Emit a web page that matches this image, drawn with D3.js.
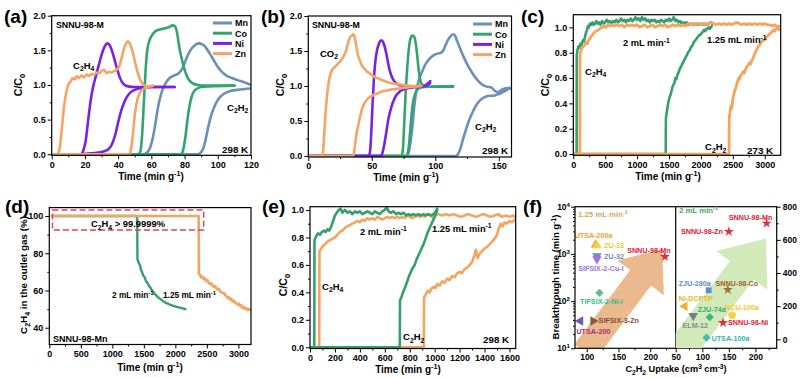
<!DOCTYPE html>
<html><head><meta charset="utf-8">
<script src="https://cdn.jsdelivr.net/npm/d3@7"></script>
<style>
body{margin:0;background:#fff;}
svg{display:block;font-family:"Liberation Sans",Arial,sans-serif;}
</style></head><body>
<svg id="c" width="800" height="378"></svg>
<script>
// ---------------- DATA ----------------
const metals = ["Mn","Co","Ni","Zn"];
// panel (a): C2H4/C2H2 breakthrough, [time, C/C0]
const aMnC2H4 = [[0,0],[55,0],[57,0.02],[59,0.08],[61,0.25],[62.5,0.45],[64,0.68],[66,0.88],[68,1.0],[71,1.1],[74,1.14],[76.5,1.17],[79,1.25],[81,1.38],[83.5,1.5],[86,1.57],[88.5,1.6],[90.5,1.59],[92.5,1.55],[95,1.46],[97.5,1.36],[100,1.26],[102.5,1.19],[105.5,1.13],[108.5,1.1],[112,1.07],[116,1.04],[120,1.0]];
const aMnC2H2 = [[0,0],[88,0],[90,0.03],[91.5,0.1],[93,0.25],[94.5,0.42],[96,0.56],[98,0.69],[100.5,0.8],[103.5,0.87],[107,0.91],[112,0.93],[120,0.95]];
const aCoC2H4 = [[0,0],[52,0],[53.5,0.05],[54.5,0.3],[55.5,0.75],[56.5,1.2],[57.5,1.5],[59,1.65],[61,1.74],[63.5,1.79],[67,1.81],[70,1.83],[73,1.86],[74.5,1.84],[75.5,1.75],[77,1.52],[78.5,1.36],[80,1.22],[82,1.1],[84.5,1.03],[88,1.0],[93,0.99],[110,0.99]];
const aCoC2H2 = [[0,0],[78,0],[79,0.05],[80.5,0.25],[82,0.55],[83.5,0.76],[85,0.88],[87,0.94],[90,0.97],[95,0.98],[110,0.99]];
const aNiC2H4 = [[0,0],[17.5,0],[19,0.05],[20.5,0.2],[22,0.5],[23.5,0.78],[25,0.98],[26.5,1.12],[28.5,1.3],[30.5,1.47],[32,1.56],[33.5,1.6],[35,1.57],[36.5,1.48],[38,1.35],[39.5,1.22],[41,1.11],[43,1.02],[46,0.98],[50,0.97],[74,0.97]];
const aNiC2H2 = [[0,0],[18,0],[22,0.01],[27,0.02],[31,0.04],[34,0.07],[36,0.13],[38,0.26],[40,0.46],[42,0.64],[44,0.77],[46.5,0.87],[50,0.93],[55,0.96],[60,0.97],[74,0.97]];
const aZnC2H4 = [[0,0],[3,0],[4.5,0.05],[6,0.35],[7.5,0.7],[9,0.92],[10.5,1.03],[11.5,1.05],[12.5,1.1],[14,1.08],[15,1.13],[16.5,1.1],[18,1.14],[19.5,1.11],[21,1.15],[22.5,1.13],[24,1.16],[25.5,1.15],[27,1.18],[28.5,1.17],[30,1.2],[31.5,1.22],[33,1.17],[34.5,1.19],[36,1.18],[37.5,1.2],[39,1.22],[40.5,1.26],[42,1.38],[43.5,1.52],[45,1.61],[46,1.63],[47,1.6],[48.5,1.5],[50,1.35],[51.5,1.2],[53,1.09],[55,1.01],[57.5,0.98],[61,0.99]];
const aZnC2H2 = [[0,0],[46.5,0],[47.5,0.04],[48.5,0.2],[49.5,0.45],[50.5,0.65],[51.5,0.78],[53,0.88],[55,0.94],[57.5,0.97],[61,0.99]];
// panel (b): CO2/C2H2
const bMnCO2 = [[0,0],[77,0],[79,0.05],[80.5,0.2],[82,0.42],[83.5,0.72],[85,0.92],[87,1.08],[89.5,1.2],[92,1.3],[95,1.38],[98,1.43],[101,1.46],[104,1.47],[106,1.5],[108,1.58],[110,1.66],[112,1.71],[114,1.74],[115.5,1.72],[117,1.65],[119,1.56],[121,1.47],[123.5,1.37],[126,1.28],[129,1.19],[132,1.11],[135,1.05],[138,1.01],[141,0.99],[144,0.98],[147,0.93],[149,0.91],[151,0.93],[154,0.96],[157,0.97],[160,0.97]];
const bMnC2H2 = [[0,0],[116,0],[118,0.03],[120,0.12],[122,0.25],[124,0.37],[126,0.48],[128,0.57],[130,0.65],[132,0.72],[134.5,0.78],[137,0.82],[140,0.85],[143,0.86],[146,0.86],[149,0.88],[152,0.9],[155,0.93],[158,0.96],[160,0.97]];
const bCoCO2 = [[0,0],[73.5,0],[74.5,0.1],[75.5,0.45],[76.5,0.85],[77.5,1.15],[78.5,1.4],[79.5,1.58],[80.5,1.68],[82,1.72],[83.5,1.7],[84.5,1.62],[85.5,1.48],[86.5,1.3],[87.5,1.15],[88.5,1.06],[90,1.01],[93,0.99],[100,0.99],[114,0.99]];
const bCoC2H2 = [[0,0],[77.5,0],[78.5,0.05],[79.5,0.2],[80.5,0.42],[81.5,0.62],[82.5,0.77],[84,0.88],[86,0.95],[89,0.98],[95,0.99],[114,1.0]];
const bNiCO2 = [[0,0],[47.5,0],[48.5,0.05],[49.5,0.3],[50.5,0.7],[51.5,1.05],[52.5,1.3],[54,1.5],[55.5,1.6],[57,1.65],[58,1.65],[59.5,1.6],[61,1.5],[62.5,1.36],[64,1.23],[66,1.12],[68,1.06],[71,1.02],[75,1.0],[80,0.99],[86,1.0],[91,1.0],[93,1.02],[95,1.05],[96,1.07]];
const bNiC2H2 = [[0,0],[57.5,0],[58.5,0.05],[60,0.18],[61.5,0.35],[63,0.52],[64.5,0.64],[66.5,0.76],[69,0.86],[72,0.92],[76,0.96],[82,0.98],[88,0.99],[92,1.0],[94,1.02],[96,1.04]];
const bZnCO2 = [[0,0],[10.5,0],[11.5,0.05],[12.5,0.3],[13.5,0.6],[15,0.9],[16.5,1.1],[18,1.2],[19.5,1.25],[21,1.27],[22.5,1.3],[24,1.33],[25.5,1.36],[27,1.4],[28.5,1.45],[30,1.52],[31.5,1.63],[33,1.7],[34.5,1.72],[35.5,1.74],[36.5,1.7],[37.5,1.6],[39,1.45],[40.5,1.37],[42,1.3],[44,1.25],[46,1.21],[49,1.17],[52,1.13],[56,1.1],[60,1.07],[65,1.04],[70,1.03],[76,1.01],[82,1.0],[89,1.0]];
const bZnC2H2 = [[0,0],[35,0],[36,0.05],[37,0.18],[38,0.32],[39.5,0.45],[41,0.58],[42.5,0.68],[44.5,0.76],[47,0.82],[50,0.86],[54,0.89],[58,0.92],[63,0.94],[70,0.96],[78,0.98],[89,1.0]];
// panel (c): 273 K, two flow rates
const cGreenC2H4 = [[0,0],[52,0],[54,0.78],[65,0.82],[80,0.85],[95,0.84],[110,0.87],[125,0.86],[140,0.88],[155,0.9],[170,0.89],[185,0.93],[200,0.96],[215,0.98],[230,1.01],[245,1.0],[260,1.03],[280,1.02],[300,1.04],[320,1.02],[340,1.03],[360,1.05],[380,1.03],[400,1.04],[425,1.02],[450,1.05],[475,1.03],[500,1.04],[525,1.06],[550,1.04],[575,1.05],[600,1.03],[625,1.05],[650,1.04],[675,1.06],[700,1.04],[725,1.05],[750,1.07],[775,1.05],[800,1.06],[825,1.04],[850,1.06],[875,1.05],[900,1.07],[925,1.05],[950,1.06],[975,1.08],[1000,1.06],[1025,1.07],[1050,1.05],[1075,1.08],[1100,1.06],[1125,1.07],[1150,1.05],[1175,1.06],[1200,1.04],[1225,1.06],[1250,1.05],[1275,1.06],[1300,1.04],[1325,1.05],[1350,1.04],[1375,1.06],[1400,1.05],[1425,1.04],[1450,1.06],[1475,1.05],[1500,1.07],[1525,1.05],[1550,1.06],[1575,1.08],[1600,1.05],[1625,1.06],[1650,1.04],[1675,1.05],[1700,1.03],[1725,1.04],[1750,1.03],[1775,1.04],[1800,1.02],[1825,1.03],[1850,1.02],[1875,1.03],[1900,1.02],[1925,1.03],[1950,1.02],[1975,1.03],[2000,1.02],[2025,1.03],[2050,1.02],[2075,1.03],[2100,1.02],[2125,1.03],[2150,1.04],[2175,1.03]];
const cGreenC2H2 = [[0,0],[1448,0],[1451,0.28],[1465,0.33],[1480,0.38],[1495,0.42],[1510,0.45],[1525,0.47],[1540,0.5],[1555,0.53],[1570,0.55],[1585,0.56],[1600,0.6],[1615,0.59],[1630,0.62],[1645,0.64],[1660,0.66],[1675,0.68],[1690,0.69],[1705,0.71],[1720,0.72],[1735,0.74],[1750,0.75],[1765,0.77],[1780,0.78],[1795,0.8],[1810,0.81],[1825,0.82],[1840,0.84],[1855,0.85],[1870,0.86],[1885,0.88],[1900,0.89],[1915,0.9],[1930,0.91],[1945,0.92],[1960,0.93],[1975,0.94],[1990,0.94],[2005,0.95],[2020,0.96],[2035,0.97],[2050,0.98],[2065,0.97],[2080,0.98],[2095,0.99],[2110,0.99],[2125,1.0],[2140,0.99],[2155,1.0],[2170,1.01]];
const cOrangeC2H4 = [[0,0],[102,0],[105,0.78],[120,0.82],[140,0.84],[160,0.85],[180,0.86],[200,0.88],[220,0.87],[240,0.9],[260,0.91],[280,0.93],[300,0.94],[330,0.96],[360,0.97],[390,0.98],[420,0.99],[450,1.0],[480,1.01],[510,1.0],[540,1.02],[570,1.01],[600,1.02],[640,1.01],[680,1.02],[720,1.01],[760,1.02],[800,1.0],[840,1.02],[880,1.01],[920,1.02],[960,1.01],[1000,1.02],[1040,1.0],[1080,1.01],[1120,1.02],[1160,1.0],[1200,1.01],[1240,1.02],[1280,1.0],[1320,1.01],[1360,1.02],[1400,1.01],[1440,1.02],[1480,1.0],[1520,1.01],[1560,1.02],[1600,1.01],[1640,1.02],[1680,1.01],[1720,1.02],[1760,1.01],[1800,1.03],[1840,1.02],[1880,1.03],[1920,1.02],[1960,1.03],[2000,1.02],[2040,1.03],[2080,1.02],[2120,1.03],[2160,1.04],[2200,1.03],[2240,1.02],[2280,1.03],[2320,1.02],[2360,1.03],[2400,1.02],[2440,1.03],[2480,1.02],[2520,1.03],[2560,1.04],[2600,1.03],[2640,1.02],[2680,1.03],[2720,1.02],[2760,1.03],[2800,1.02],[2840,1.03],[2880,1.02],[2920,1.03],[2960,1.02],[3000,1.03],[3040,1.02],[3080,1.02],[3120,1.01],[3160,1.02],[3200,1.0],[3230,0.98]];
const cOrangeC2H2 = [[0,0],[2440,0],[2443,0.28],[2455,0.33],[2470,0.38],[2485,0.36],[2500,0.44],[2515,0.47],[2530,0.5],[2545,0.52],[2560,0.55],[2575,0.57],[2590,0.6],[2605,0.59],[2620,0.62],[2640,0.63],[2660,0.65],[2680,0.64],[2700,0.67],[2720,0.69],[2740,0.7],[2760,0.72],[2780,0.71],[2800,0.74],[2820,0.76],[2840,0.79],[2860,0.81],[2880,0.83],[2900,0.85],[2920,0.86],[2940,0.88],[2960,0.89],[2980,0.9],[3000,0.9],[3020,0.92],[3040,0.93],[3060,0.94],[3080,0.95],[3100,0.96],[3120,0.97],[3140,0.98],[3160,0.97],[3180,0.99],[3200,1.0],[3220,1.01]];
// panel (d): C2H4 purity in outlet gas (%)
const dGreen = [[40,100],[1395,100],[1398,77],[1410,75.5],[1425,74.5],[1440,73.5],[1455,71],[1470,70],[1485,68.5],[1500,67.5],[1515,67],[1530,65.5],[1545,64.5],[1560,64],[1575,63],[1590,62],[1605,61.5],[1620,60.5],[1635,60],[1650,59.2],[1665,58.5],[1680,58],[1700,57.2],[1720,56.5],[1740,56],[1760,55.5],[1780,55],[1800,54.4],[1820,54],[1840,53.5],[1860,53.2],[1880,53],[1900,52.6],[1920,52.3],[1940,52.1],[1960,51.8],[1980,51.6],[2000,51.5],[2020,51.2],[2040,51],[2060,50.9],[2080,50.7],[2100,50.5],[2120,50.4],[2140,50.2],[2160,50]];
const dOrange = [[40,100],[2370,100],[2373,69],[2390,68.5],[2410,67],[2430,67.5],[2450,66],[2470,66.5],[2490,65],[2510,65.5],[2530,64],[2550,63.5],[2570,64],[2590,62.5],[2610,62],[2630,62.5],[2650,61],[2670,60.5],[2690,61],[2710,59.5],[2730,59],[2750,58.5],[2770,58.8],[2790,57.5],[2810,57],[2830,56],[2850,56.5],[2870,55],[2890,55.5],[2910,54],[2930,54.5],[2950,53.5],[2970,53],[2990,52.5],[3010,53],[3030,51.5],[3050,52],[3070,50.5],[3090,51],[3110,50],[3130,50.5],[3150,49.5],[3170,50],[3190,49.5],[3210,50]];
const dPurityBox = [[50,92.5],[2450,103.2]];
// panel (e): 298 K, two flow rates
const eGreenC2H4 = [[0,0],[34,0],[36,0.78],[50,0.81],[65,0.83],[80,0.82],[95,0.84],[110,0.85],[125,0.84],[140,0.86],[155,0.85],[170,0.88],[185,0.92],[200,0.96],[215,0.98],[230,1.0],[245,1.01],[260,0.98],[280,1.0],[300,0.98],[320,0.99],[340,0.97],[360,0.99],[380,0.98],[400,0.99],[420,0.97],[440,0.98],[460,0.99],[480,0.98],[500,0.97],[520,0.99],[540,0.98],[560,0.97],[580,0.99],[600,1.0],[615,1.02],[630,0.99],[650,0.98],[670,0.99],[690,0.97],[710,0.98],[730,0.97],[750,0.98],[770,0.96],[790,0.97],[810,0.96],[830,0.97],[850,0.96],[870,0.97],[890,0.96],[910,0.97],[930,0.96],[950,0.97],[970,0.96],[990,0.97],[1010,0.99],[1020,1.01]];
const eGreenC2H2 = [[0,0],[720,0],[722,0.34],[735,0.37],[750,0.41],[765,0.44],[780,0.48],[795,0.52],[810,0.55],[825,0.58],[840,0.6],[855,0.64],[870,0.67],[885,0.7],[900,0.73],[915,0.76],[930,0.8],[945,0.84],[960,0.87],[975,0.9],[990,0.93],[1005,0.96],[1020,1.0]];
const eOrangeC2H4 = [[0,0],[74,0],[76,0.7],[90,0.72],[105,0.74],[120,0.75],[140,0.77],[160,0.78],[180,0.79],[200,0.8],[220,0.82],[240,0.84],[260,0.85],[280,0.87],[300,0.88],[320,0.89],[340,0.9],[360,0.91],[380,0.92],[400,0.91],[420,0.93],[440,0.92],[460,0.94],[480,0.93],[500,0.94],[520,0.93],[540,0.95],[560,0.94],[580,0.93],[600,0.94],[620,0.95],[640,0.94],[660,0.95],[680,0.94],[700,0.95],[720,0.94],[740,0.95],[760,0.94],[780,0.96],[800,0.95],[820,0.94],[840,0.95],[860,0.96],[880,0.95],[900,0.96],[920,0.95],[940,0.97],[960,0.96],[980,0.95],[1000,0.96],[1030,0.97],[1060,0.96],[1090,0.97],[1120,0.96],[1150,0.97],[1180,0.96],[1210,0.95],[1240,0.96],[1270,0.97],[1300,0.96],[1330,0.95],[1360,0.96],[1390,0.97],[1420,0.96],[1450,0.95],[1480,0.96],[1510,0.97],[1540,0.95],[1570,0.96],[1600,0.95],[1630,0.96],[1645,0.95]];
const eOrangeC2H2 = [[0,0],[913,0],[915,0.36],[930,0.39],[945,0.41],[960,0.4],[975,0.43],[990,0.44],[1005,0.43],[1020,0.46],[1040,0.45],[1060,0.48],[1080,0.47],[1100,0.5],[1120,0.49],[1140,0.52],[1160,0.51],[1180,0.54],[1200,0.55],[1220,0.54],[1240,0.57],[1260,0.58],[1280,0.6],[1300,0.62],[1315,0.66],[1330,0.71],[1345,0.65],[1360,0.68],[1380,0.7],[1400,0.72],[1420,0.73],[1440,0.75],[1460,0.77],[1480,0.79],[1500,0.82],[1515,0.87],[1530,0.9],[1545,0.88],[1560,0.91],[1580,0.9],[1600,0.92],[1620,0.91],[1645,0.93]];
// panel (f): C2H2 uptake (cm3 cm-3) vs breakthrough time (min g-1)
const fLeftNames  = ["UTSA-200a","ZU-33","ZU-32","SIFSIX-2-Cu-i","TIFSIX-2-Ni-i","UTSA-200","SIFSIX-3-Zn","SNNU-98-Mn"];
const fLeftUptake = [114,116,116,116,120,90,110,223];
const fLeftTime   = [1550,1500,900,780,150,38,38,870];
const fRightNames  = ["SNNU-98-Mn","SNNU-98-Zn","ZJU-280a","SNNU-98-Co","Ni-DCPTP","ELM-12","ZJU-74a","NCU-100a","SNNU-98-Ni","UTSA-100a"];
const fRightUptake = [221,150,112,148,67,83,114,156,139,108];
const fRightTime   = [700,650,296,300,200,142,134,146,100,10];

// ---------------- STYLE ----------------
const FONT = "'Liberation Sans', Arial, sans-serif";
const metalColor = {Mn:"#6b8fb9",Co:"#33a46e",Ni:"#7a22e3",Zn:"#f5a466"};
const GREEN = "#35a06c", ORANGE = "#f5a45f";
const fStyle = {
 "L:UTSA-200a":{c:"#f0a22a",s:"tu",lc:"#eea030",dx:-2,dy:-7,a:"middle"},
 "L:ZU-33":{c:"#f3d23e",s:"tu",lc:"#e8cc3a",dx:7,dy:2.5,a:"start"},
 "L:ZU-32":{c:"#6d8cc6",s:"td",lc:"#6a8ec0",dx:7,dy:2.5,a:"start"},
 "L:SIFSIX-2-Cu-i":{c:"#a574e0",s:"td",lc:"#a070dc",dx:4,dy:12,a:"middle"},
 "L:TIFSIX-2-Ni-i":{c:"#5cc08a",s:"di",lc:"#38b890",dx:2,dy:11.5,a:"middle"},
 "L:UTSA-200":{c:"#6a5ab0",s:"tl",lc:"#b03068",dx:13,dy:13.5,a:"middle"},
 "L:SIFSIX-3-Zn":{c:"#8b5a3c",s:"tr",lc:"#8b4a3a",dx:5.5,dy:2.5,a:"start"},
 "L:SNNU-98-Mn":{c:"#e0303a",s:"st",lc:"#e02030",dx:-16,dy:-4,a:"middle"},
 "R:SNNU-98-Mn":{c:"#d83040",s:"st",lc:"#e02030",dx:-16,dy:-3,a:"middle"},
 "R:SNNU-98-Zn":{c:"#e0303a",s:"st",lc:"#e02030",dx:-6,dy:2,a:"end"},
 "R:ZJU-280a":{c:"#5b8fd0",s:"sq",lc:"#5b8fc8",dx:-14,dy:-4.5,a:"middle"},
 "R:SNNU-98-Co":{c:"#a0703a",s:"st",lc:"#a0602a",dx:9,dy:-4,a:"middle"},
 "R:Ni-DCPTP":{c:"#f0b030",s:"tl",lc:"#e8b820",dx:11,dy:-5,a:"middle"},
 "R:ELM-12":{c:"#7c7c8a",s:"td",lc:"#8a8a8a",dx:2,dy:12,a:"middle"},
 "R:ZJU-74a":{c:"#3cb878",s:"di",lc:"#30b070",dx:2,dy:-5,a:"middle"},
 "R:NCU-100a":{c:"#f5d040",s:"pe",lc:"#f0c830",dx:10,dy:-5,a:"middle"},
 "R:SNNU-98-Ni":{c:"#e0303a",s:"st",lc:"#e02030",dx:5,dy:2.5,a:"start"},
 "R:UTSA-100a":{c:"#40c0b0",s:"di",lc:"#30b8a8",dx:5,dy:3,a:"start"}
};

// ---------------- HELPERS ----------------
const svg = d3.select("#c");
const defs = svg.append("defs");
function rich(t, str, fs){
  const re=/([_^])\{([^}]*)\}/g; let last=0, m, shift=0;
  const add=(txt,dy,size)=>{const s=t.append("tspan").text(txt); if(dy) s.attr("dy",dy); if(size) s.attr("font-size",size);};
  while((m=re.exec(str))!==null){
    if(m.index>last){ add(str.slice(last,m.index),-shift); shift=0; }
    const s = m[1]==="_" ? fs*0.3 : -fs*0.36;
    add(m[2], s-shift, fs*0.72); shift=s; last=re.lastIndex;
  }
  if(last<str.length) add(str.slice(last),-shift);
  return t;
}
function label(g,x,y,str,fs,o={}){
  const t=g.append("text").attr("x",x).attr("y",y).attr("font-size",fs).attr("font-weight","bold")
    .attr("font-family",FONT).attr("fill",o.fill||"#000").attr("text-anchor",o.anchor||"start");
  if(o.rotate) t.attr("transform",`rotate(-90,${x},${y})`);
  return rich(t,str,fs);
}
let clipN=0;
function panel(o){
  const x=d3.scaleLinear().domain(o.xd).range([o.l,o.r]);
  const y=(o.log?d3.scaleLog():d3.scaleLinear()).domain(o.yd).range([o.b,o.t]);
  const g=svg.append("g");
  const id="clip"+(clipN++);
  defs.append("clipPath").attr("id",id).append("rect").attr("x",o.l).attr("y",o.t).attr("width",o.r-o.l).attr("height",o.b-o.t);
  const plot=g.append("g").attr("clip-path",`url(#${id})`);
  return Object.assign({x,y,g,plot},o);
}
function styleAxis(s,fs){
  s.attr("font-family",FONT).attr("font-size",fs||9).attr("font-weight","bold");
  s.select(".domain").remove();
  s.selectAll("line").attr("stroke","#000").attr("stroke-width",1);
  s.selectAll("text").attr("fill","#000");
}
function xAxis(p,scale,ticks,minor,fmt,fs){
  styleAxis(p.g.append("g").attr("transform",`translate(0,${p.b})`).call(d3.axisBottom(scale).tickValues(ticks).tickSize(4).tickPadding(2).tickFormat(fmt)),fs);
  styleAxis(p.g.append("g").attr("transform",`translate(0,${p.b})`).call(d3.axisBottom(scale).tickValues(minor).tickSize(2).tickFormat("")),fs);
}
function yAxis(p,scale,ticks,minor,fmt,right,fs){
  const A = right? d3.axisRight : d3.axisLeft; const pos = right? p.r : p.l;
  styleAxis(p.g.append("g").attr("transform",`translate(${pos},0)`).call(A(scale).tickValues(ticks).tickSize(4).tickPadding(2).tickFormat(fmt)),fs);
  styleAxis(p.g.append("g").attr("transform",`translate(${pos},0)`).call(A(scale).tickValues(minor).tickSize(2).tickFormat("")),fs);
}
function frame(p){
  p.g.append("rect").attr("x",p.l).attr("y",p.t).attr("width",p.r-p.l).attr("height",p.b-p.t)
   .attr("fill","none").attr("stroke","#000").attr("stroke-width",1.2);
}
function drawLine(p,data,color,w,smooth){
  const ln=d3.line().x(d=>p.x(d[0])).y(d=>p.y(d[1])).curve(smooth?d3.curveMonotoneX:d3.curveLinear);
  p.plot.append("path").datum(data).attr("d",ln).attr("fill","none").attr("stroke",color)
    .attr("stroke-width",w).attr("stroke-linejoin","round").attr("stroke-linecap","round");
}
const fmt1=d3.format(".1f"), fmtD=d3.format("d");
const range=(a,b,s)=>d3.range(a,b+s/2,s);

// ---------------- PANEL (a) ----------------
{
 const p=panel({l:51.7,r:251,t:15.7,b:155.3,xd:[0,120],yd:[-0.015,2.0]});
 const ser={Mn:[aMnC2H4,aMnC2H2],Co:[aCoC2H4,aCoC2H2],Ni:[aNiC2H4,aNiC2H2],Zn:[aZnC2H4,aZnC2H2]};
 metals.forEach(m=>ser[m].forEach(s=>drawLine(p,s,metalColor[m],2.6,true)));
 xAxis(p,p.x,range(0,120,20),range(10,110,20),fmtD);
 yAxis(p,p.y,range(0,2,0.5),[0.25,0.75,1.25,1.75],fmt1);
 frame(p);
 metals.forEach((m,i)=>{
   const yy=23+i*10.2;
   p.g.append("line").attr("x1",213).attr("x2",232).attr("y1",yy).attr("y2",yy).attr("stroke",metalColor[m]).attr("stroke-width",3);
   label(p.g,235,yy+3.3,m,9);
 });
 label(p.g,56,27.8,"SNNU-98-M",8.8);
 label(p.g,73,68.5,"C_{2}H_{4}",9.5);
 label(p.g,227,110.5,"C_{2}H_{2}",9.5);
 label(p.g,222,153,"298 K",9.8);
 label(svg,22,85,"C/C_{0}",10.5,{rotate:true,anchor:"middle"});
 label(svg,151,180,"Time (min g^{-1})",10,{anchor:"middle"});
 label(svg,4,23,"(a)",19);
}
// ---------------- PANEL (b) ----------------
{
 const p=panel({l:308.3,r:511.5,t:16,b:157,xd:[0,160],yd:[-0.015,2.0]});
 const ser={Mn:[bMnCO2,bMnC2H2],Co:[bCoCO2,bCoC2H2],Ni:[bNiCO2,bNiC2H2],Zn:[bZnCO2,bZnC2H2]};
 metals.forEach(m=>ser[m].forEach(s=>drawLine(p,s,metalColor[m],2.6,true)));
 xAxis(p,p.x,[0,50,100,150],[25,75,125],fmtD);
 yAxis(p,p.y,range(0,2,0.5),[0.25,0.75,1.25,1.75],fmt1);
 frame(p);
 metals.forEach((m,i)=>{
   const yy=24+i*10.2;
   p.g.append("line").attr("x1",473).attr("x2",492).attr("y1",yy).attr("y2",yy).attr("stroke",metalColor[m]).attr("stroke-width",3);
   label(p.g,495,yy+3.3,m,9);
 });
 label(p.g,312,28,"SNNU-98-M",8.8);
 label(p.g,320,56.5,"CO_{2}",9.5);
 label(p.g,475,129.5,"C_{2}H_{2}",9.5);
 label(p.g,482,154,"298 K",9.8);
 label(svg,283.5,85,"C/C_{0}",10.5,{rotate:true,anchor:"middle"});
 label(svg,406,181,"Time (min g^{-1})",10,{anchor:"middle"});
 label(svg,261,23,"(b)",19);
}
// ---------------- PANEL (c) ----------------
{
 const p=panel({l:573.3,r:780.7,t:14.7,b:155.3,xd:[0,3250],yd:[-0.01,1.1]});
 [cGreenC2H4,cGreenC2H2].forEach(s=>drawLine(p,s,GREEN,2.6,false));
 [cOrangeC2H4,cOrangeC2H2].forEach(s=>drawLine(p,s,ORANGE,2.8,false));
 xAxis(p,p.x,range(0,3000,500),range(250,2750,500),fmtD);
 yAxis(p,p.y,range(0,1,0.2),range(0.1,0.9,0.2),fmt1);
 frame(p);
 label(p.g,623,46,"2 mL min^{-1}",9.3);
 label(p.g,707,43,"1.25 mL min^{-1}",9.3);
 label(p.g,585,74.5,"C_{2}H_{4}",9.5);
 label(p.g,705,150,"C_{2}H_{2}",9.5);
 label(p.g,747,153.5,"273 K",9.8);
 label(svg,548.5,85,"C/C_{0}",10.5,{rotate:true,anchor:"middle"});
 label(svg,668,180,"Time (min g^{-1})",10,{anchor:"middle"});
 label(svg,521,23,"(c)",19);
}
// ---------------- PANEL (d) ----------------
{
 const p=panel({l:49.3,r:251,t:207.6,b:344.5,xd:[0,3200],yd:[31,104.5]});
 drawLine(p,dGreen,GREEN,2.4,false);
 drawLine(p,dOrange,ORANGE,2.6,false);
 const [b0,b1]=dPurityBox;
 p.plot.append("rect").attr("x",p.x(b0[0])).attr("y",p.y(b1[1])).attr("width",p.x(b1[0])-p.x(b0[0])).attr("height",p.y(b0[1])-p.y(b1[1]))
   .attr("fill","none").attr("stroke","#e0405a").attr("stroke-width",1.4).attr("stroke-dasharray","6,3");
 xAxis(p,p.x,range(0,3000,500),range(250,2750,500),fmtD);
 yAxis(p,p.y,[40,60,80,100],[50,70,90],fmtD);
 frame(p);
 label(p.g,128,227,"C_{2}H_{4} > 99.9999%",9.4,{anchor:"middle"});
 label(p.g,112,297.5,"2 mL min^{-1}",8.3);
 label(p.g,163,297.5,"1.25 mL min^{-1}",8.3);
 label(p.g,53,342,"SNNU-98-Mn",9);
 label(svg,27,275,"C_{2}H_{4} in the outlet gas (%)",9.8,{rotate:true,anchor:"middle"});
 label(svg,150,371,"Time (min g^{-1})",10,{anchor:"middle"});
 label(svg,5,213,"(d)",19);
}
// ---------------- PANEL (e) ----------------
{
 const p=panel({l:310,r:515.7,t:206.7,b:348.5,xd:[0,1650],yd:[-0.009,1.024]});
 [eOrangeC2H4,eOrangeC2H2].forEach(s=>drawLine(p,s,ORANGE,2.6,false));
 [eGreenC2H4,eGreenC2H2].forEach(s=>drawLine(p,s,GREEN,2.6,false));
 xAxis(p,p.x,range(0,1600,200),range(100,1500,200),fmtD);
 yAxis(p,p.y,range(0,1,0.2),range(0.1,0.9,0.2),fmt1);
 frame(p);
 label(p.g,360,234.5,"2 mL min^{-1}",9.3);
 label(p.g,432,231.5,"1.25 mL min^{-1}",9.3);
 label(p.g,322,289.5,"C_{2}H_{4}",9.5);
 label(p.g,403,340,"C_{2}H_{2}",9.5);
 label(p.g,483,342.5,"298 K",9.8);
 label(svg,286.5,285,"C/C_{0}",10.5,{rotate:true,anchor:"middle"});
 label(svg,408,372.5,"Time (min g^{-1})",10,{anchor:"middle"});
 label(svg,262,213,"(e)",19);
}
// ---------------- PANEL (f) ----------------
{
 const L=panel({l:575,r:675.7,t:206.7,b:348.3,xd:[81.5,240],yd:[10,10000],log:true});
 const R=panel({l:675.7,r:776.7,t:206.7,b:348.3,xd:[50,240],yd:[-54,800]});
 function arrow(p,tail,tip,sw,hw,hl,fill){
   const x0=p.x(tail[0]),y0=p.y(tail[1]),x1=p.x(tip[0]),y1=p.y(tip[1]);
   const dx=x1-x0,dy=y1-y0,Ln=Math.hypot(dx,dy),ux=dx/Ln,uy=dy/Ln,nx=-uy,ny=ux;
   const bx=x1-ux*hl,by=y1-uy*hl;
   const pts=[[x0+nx*sw/2,y0+ny*sw/2],[bx+nx*sw/2,by+ny*sw/2],[bx+nx*hw/2,by+ny*hw/2],[x1,y1],[bx-nx*hw/2,by-ny*hw/2],[bx-nx*sw/2,by-ny*sw/2],[x0-nx*sw/2,y0-ny*sw/2]];
   p.plot.append("path").attr("d","M"+pts.map(q=>q.join(",")).join("L")+"Z").attr("fill",fill);
 }
 arrow(L,[97,8.3],[218.8,1270],26,58,36,"#eab98e");
 arrow(R,[58,-76],[219.9,608],30,64,40,"#d2eaba");
 const shapes={tu:[d3.symbolTriangle,0],td:[d3.symbolTriangle,180],tl:[d3.symbolTriangle,-90],tr:[d3.symbolTriangle,90],
   di:[d3.symbolSquare,45],sq:[d3.symbolSquare,0],st:[d3.symbolStar,0],pe:[null,0]};
 function pent(r){const pts=d3.range(5).map(i=>{const a=-Math.PI/2+i*2*Math.PI/5;return [r*Math.cos(a),r*Math.sin(a)];});return "M"+pts.map(q=>q.join(",")).join("L")+"Z";}
 function pts(p,side,names,ux,ty){
   names.forEach((n,i)=>{
     const st=fStyle[side+":"+n]; const cx=p.x(ux[i]), cy=p.y(ty[i]);
     const [sym,rot]=shapes[st.s];
     const size = st.s==="st"?32:(st.s==="di"?34:(st.s==="sq"?34:40));
     const d = sym? d3.symbol(sym,size)() : pent(4.5);
     p.g.append("path").attr("d",d).attr("transform",`translate(${cx},${cy}) rotate(${rot})`).attr("fill",st.c);
     label(p.g,cx+st.dx,cy+st.dy,n,7.2,{fill:st.lc,anchor:st.a});
   });
 }
 pts(L,"L",fLeftNames,fLeftUptake,fLeftTime);
 pts(R,"R",fRightNames,fRightUptake,fRightTime);
 xAxis(L,L.x,[100,150,200],[125,175,225],fmtD,8.5);
 xAxis(R,R.x,[50,100,150,200],[75,125,175,225],fmtD,8.5);
 const minorLog=[];[10,100,1000].forEach(d=>d3.range(2,10).forEach(k=>minorLog.push(d*k)));
 yAxis(L,L.y,[10,100,1000,10000],minorLog,()=>"",false,8.5);
 [10,100,1000,10000].forEach((v,i)=>label(L.g,L.l-5,L.y(v)+3,"10^{"+(i+1)+"}",8.5,{anchor:"end"}));
 yAxis(R,R.y,range(0,800,200),range(100,700,200),fmtD,true,8.5);
 frame({g:L.g,l:575,r:776.7,t:206.7,b:348.3});
 L.g.append("line").attr("x1",675.7).attr("x2",675.7).attr("y1",206.7).attr("y2",348.3).attr("stroke","#000").attr("stroke-width",1.2);
 label(L.g,578,217,"1.25 mL min^{-1}",7.8,{fill:"#d9a466"});
 label(R.g,679,213,"2 mL min^{-1}",7.8,{fill:"#3aa85a"});
 label(svg,559,277,"Breakthrough time (min g^{-1})",9.5,{rotate:true,anchor:"middle"});
 label(svg,676,372,"C_{2}H_{2} Uptake (cm^{3} cm^{-3})",9.2,{anchor:"middle"});
 label(svg,523,213,"(f)",19);
}
</script>
</body></html>
